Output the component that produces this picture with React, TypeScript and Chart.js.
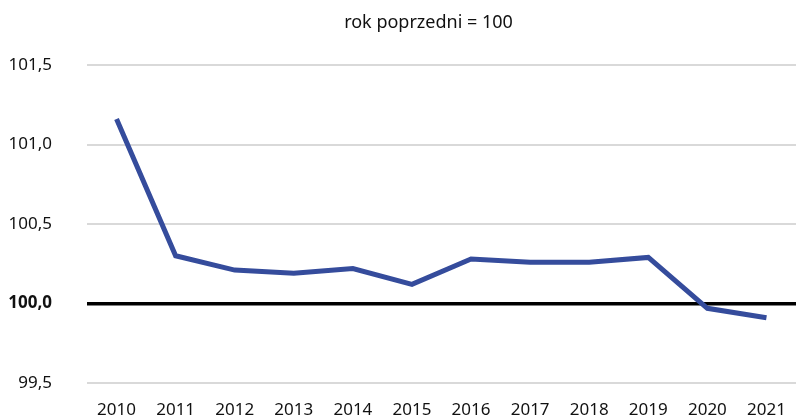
import React, { useEffect, useRef } from "react";
import { Chart, registerables } from "chart.js";

Chart.register(...registerables);

const years = ["2010", "2011", "2012", "2013", "2014", "2015", "2016", "2017", "2018", "2019", "2020", "2021"];
const values = [101.16, 100.3, 100.21, 100.19, 100.22, 100.12, 100.28, 100.26, 100.26, 100.29, 99.97, 99.91];
const titleText = "rok poprzedni = 100";
const yMin = 99.5;
const yMax = 101.5;
const yStep = 0.5;
const baseline = 100;

const FONT = '"Noto Sans", "Open Sans", sans-serif';

const titlePlugin = {
  id: "customTitle",
  afterDraw(chart: any) {
    const { ctx, chartArea } = chart;
    ctx.save();
    ctx.font = `18px ${FONT}`;
    ctx.fillStyle = "#111";
    ctx.textAlign = "center";
    ctx.textBaseline = "middle";
    ctx.fillText(titleText, (chartArea.left + chartArea.right) / 2 - 13, 23);
    ctx.restore();
  },
};

export default function App() {
  const ref = useRef<HTMLCanvasElement | null>(null);
  useEffect(() => {
    document.body.style.margin = "0";
    const canvas = ref.current!;
    const chart = new Chart(canvas, {
      type: "line",
      data: {
        labels: years,
        datasets: [
          {
            data: values,
            borderColor: "#354c9c",
            borderWidth: 5,
            pointRadius: 0,
            pointHoverRadius: 0,
            tension: 0,
            fill: false,
          },
        ],
      },
      options: {
        responsive: false,
        animation: false,
        devicePixelRatio: 1,
        layout: { padding: { top: 65, left: 0, right: 0, bottom: 0 } },
        plugins: {
          legend: { display: false },
          title: { display: false },
          tooltip: { enabled: false },
        },
        scales: {
          x: {
            type: "category",
            offset: true,
            grid: { display: false, drawTicks: false },
            border: { display: false },
            ticks: {
              color: "#111",
              font: { family: FONT, size: 17 },
              padding: 17,
              maxRotation: 0,
              autoSkip: false,
            },
            afterFit: (scale: any) => {
              scale.height = 33;
              scale.paddingLeft = 0;
              scale.paddingRight = 0;
            },
          },
          y: {
            min: yMin,
            max: yMax,
            border: { display: false },
            grid: {
              drawTicks: false,
              color: (c: any) => (c.tick && c.tick.value === baseline ? "#000" : "#d9d9d9"),
              lineWidth: (c: any) => (c.tick && c.tick.value === baseline ? 3.5 : 2),
            },
            ticks: {
              stepSize: yStep,
              padding: 35,
              color: "#111",
              font: (c: any) => ({
                family: FONT,
                size: 17,
                weight: c.tick && c.tick.value === baseline ? "bold" : "normal",
              }),
              callback: (v: any) => Number(v).toFixed(1).replace(".", ","),
            },
            afterFit: (scale: any) => {
              scale.width = 87;
              scale.paddingTop = 0;
              scale.paddingBottom = 0;
            },
          },
        },
      },
      plugins: [titlePlugin],
    });
    return () => chart.destroy();
  }, []);
  return (
    <div style={{ position: "absolute", left: 0, top: 0, width: 796, height: 416 }}>
      <canvas ref={ref} width={796} height={416} style={{ display: "block" }} />
    </div>
  );
}
